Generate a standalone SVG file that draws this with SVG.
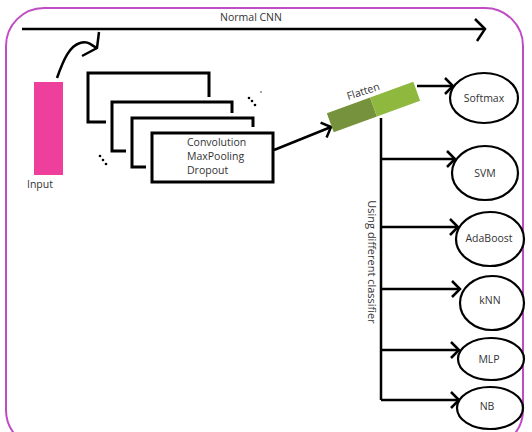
<svg xmlns="http://www.w3.org/2000/svg" width="532" height="432" viewBox="0 0 532 432">
<defs>
<style>
.t{font-family:"Open Sans","Liberation Sans",sans-serif;font-size:10.5px;fill:#333}
.c{text-anchor:middle;dominant-baseline:central}
.ln{stroke:#000;stroke-width:2.5;fill:none}
.box{stroke:#000;stroke-width:3;fill:none}
.el{stroke:#000;stroke-width:2.2;fill:#fff}
</style>
<marker id="ah" markerUnits="userSpaceOnUse" markerWidth="20" markerHeight="20" refX="10" refY="10" orient="auto" overflow="visible">
<path d="M2,2 L10,10 L2,18" stroke="#000" stroke-width="2.5" fill="none"/>
</marker>
<marker id="ahL" markerUnits="userSpaceOnUse" markerWidth="24" markerHeight="28" refX="12" refY="14" orient="auto" overflow="visible">
<path d="M2,4 L12,14 L4,26" stroke="#000" stroke-width="2.5" fill="none"/>
</marker>
</defs>
<rect x="6" y="8" width="517" height="440" rx="38" fill="#fff" stroke="#c04cc4" stroke-width="2"/>
<g id="connectors">
<line class="ln" x1="22" y1="29" x2="485" y2="29" marker-end="url(#ahL)"/>
<text class="t c" x="251" y="17">Normal CNN</text>
<path class="ln" d="M57,78 C64,58 70,46 80,43 C88,40 92,46 97,48"/>
<path class="ln" d="M99,32 L97,48 L82,56"/>
<line class="ln" x1="274" y1="150" x2="331" y2="127" marker-end="url(#ah)"/>
<line class="ln" x1="417" y1="86" x2="453" y2="86" marker-end="url(#ah)"/>
<line class="ln" x1="381" y1="118" x2="381" y2="400"/>
<line class="ln" x1="381" y1="159" x2="455" y2="159" marker-end="url(#ah)"/>
<line class="ln" x1="381" y1="227" x2="458" y2="227" marker-end="url(#ah)"/>
<line class="ln" x1="381" y1="289" x2="460" y2="289" marker-end="url(#ah)"/>
<line class="ln" x1="381" y1="350" x2="459" y2="350" marker-end="url(#ah)"/>
<line class="ln" x1="381" y1="400" x2="459" y2="400" marker-end="url(#ah)"/>
<text class="t c" transform="translate(372,262) rotate(90)" style="font-size:11px">Using different classifier</text>
</g>
<g id="input">
<rect x="34" y="82" width="29" height="93" fill="#ee3f9c"/>
<text class="t" x="27" y="188">Input</text>
</g>
<g id="conv-stack">
<path class="box" d="M106,122 H88 V73 H209 V97"/>
<path class="box" d="M126,151 H112 V102 H232 V113"/>
<path class="box" d="M146,167 H132 V118 H253 V127"/>
<rect class="box" x="152" y="133" width="121" height="49" fill="#fff"/>
<text class="t" x="187" y="146">Convolution</text>
<text class="t" x="187" y="160">MaxPooling</text>
<text class="t" x="187" y="174">Dropout</text>
<g fill="#000">
<circle cx="100" cy="156" r="1.3"/><circle cx="103" cy="160" r="1.3"/><circle cx="106" cy="164" r="1.3"/>
<circle cx="249" cy="98" r="1.3"/><circle cx="252" cy="101" r="1.3"/><circle cx="255" cy="105" r="1.3"/>
<circle cx="261" cy="92" r="0.7"/>
</g>
</g>
<g id="flatten">
<g transform="translate(373.5,107) rotate(-20)">
<rect x="-46" y="-10" width="46" height="20" fill="#76923c"/>
<rect x="0" y="-10" width="46" height="20" fill="#8fb93e"/>
</g>
<text class="t c" transform="translate(363,91) rotate(-18)">Flatten</text>
</g>
<g id="softmax"><ellipse class="el" cx="484" cy="98" rx="34" ry="25"/><text class="t c" x="484" y="98">Softmax</text></g>
<g id="svm"><ellipse class="el" cx="485" cy="173" rx="33" ry="27"/><text class="t c" x="485" y="173">SVM</text></g>
<g id="adaboost"><ellipse class="el" cx="490" cy="239" rx="34" ry="27"/><text class="t c" x="489" y="238">AdaBoost</text></g>
<g id="knn"><ellipse class="el" cx="492" cy="303" rx="32" ry="27"/><text class="t c" x="490" y="300">kNN</text></g>
<g id="mlp"><ellipse class="el" cx="491" cy="359" rx="33" ry="21"/><text class="t c" x="489" y="359">MLP</text></g>
<g id="nb"><ellipse class="el" cx="490" cy="408" rx="33" ry="21"/><text class="t c" x="487" y="406">NB</text></g>
</svg>
